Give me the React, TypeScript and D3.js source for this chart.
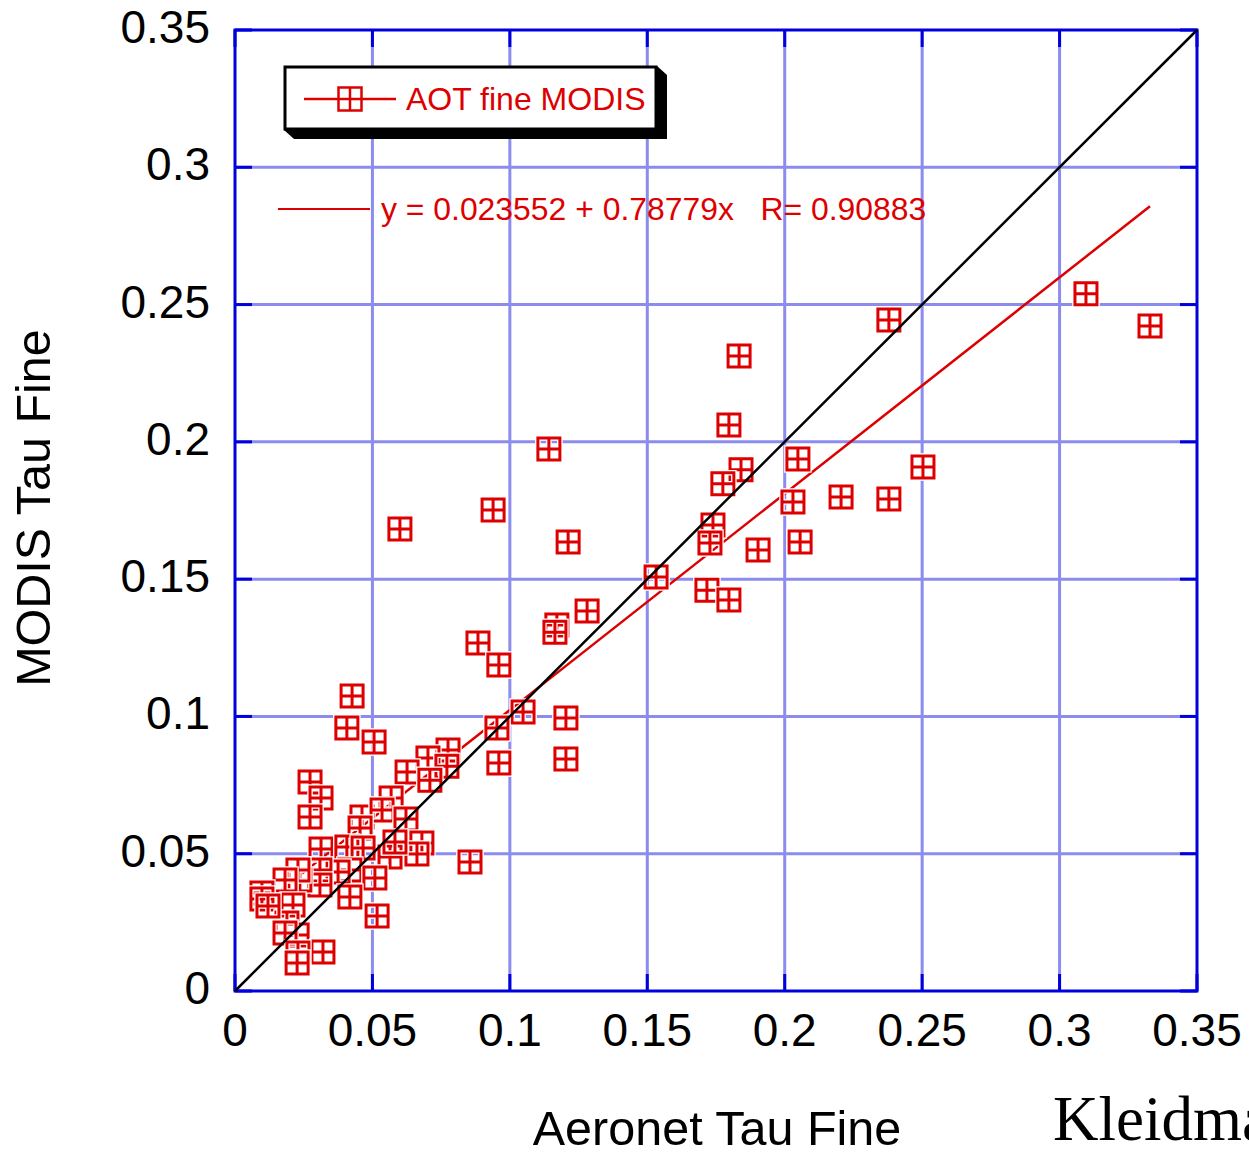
import React from "react";
import * as d3 from "d3";

// Aeronet tau fine (x) vs MODIS tau fine (y)
const aeronet = [
  0.3096, 0.3329, 0.2379, 0.1834, 0.1797, 0.1142, 0.2503, 0.2048, 0.1841, 0.1775,
  0.203, 0.2205, 0.2379, 0.0939, 0.06, 0.1212, 0.1739, 0.1728, 0.1903, 0.2056,
  0.1532, 0.1717, 0.1797, 0.1281, 0.1171, 0.1164, 0.0884, 0.096, 0.0426, 0.1048,
  0.1204, 0.0407, 0.0953, 0.0506, 0.096, 0.1204,
  0.0775, 0.0702, 0.0626, 0.0771, 0.0709, 0.0273, 0.0313, 0.0273, 0.0568, 0.0462,
  0.0535, 0.0455, 0.0622, 0.068, 0.0662, 0.0564, 0.0582, 0.0313, 0.0407, 0.0466,
  0.0855, 0.0418, 0.0509, 0.0375, 0.0309, 0.0309, 0.0236, 0.0229, 0.0182, 0.0098,
  0.0098, 0.0418, 0.0517, 0.0211, 0.0189, 0.0226, 0.0182, 0.032, 0.0229, 0.0226,
  0.012,
];
const modis = [
  0.2539, 0.2422, 0.2444, 0.2313, 0.2061, 0.1974, 0.1908, 0.1938, 0.1898, 0.1847,
  0.1781, 0.1799, 0.1792, 0.1752, 0.1683, 0.1635, 0.1697, 0.1632, 0.1606, 0.1635,
  0.1508, 0.146, 0.1424, 0.1384, 0.1333, 0.1307, 0.1267, 0.1187, 0.1074, 0.1016,
  0.0994, 0.0958, 0.0958, 0.0907, 0.083, 0.0845,
  0.0878, 0.0849, 0.0798, 0.0819, 0.0768, 0.0761, 0.0703, 0.0634, 0.0703, 0.0634,
  0.0659, 0.0594, 0.0626, 0.0539, 0.0499, 0.0488, 0.0543, 0.0517, 0.0524, 0.0521,
  0.047, 0.0441, 0.0412, 0.0433, 0.0441, 0.0386, 0.0404, 0.0441, 0.0404, 0.0357,
  0.0335, 0.0342, 0.0273, 0.0313, 0.0248, 0.0204, 0.0211, 0.0142, 0.0138, 0.0102,
  0.031,
];

const ticks = [0, 0.05, 0.1, 0.15, 0.2, 0.25, 0.3, 0.35];
const tickLabels = ["0", "0.05", "0.1", "0.15", "0.2", "0.25", "0.3", "0.35"];

const fitA = 0.023552;
const fitB = 0.78779;
const equation = "y = 0.023552 + 0.78779x   R= 0.90883";
const seriesName = "AOT fine MODIS";

const RED = "#dd0000";
const BLUE = "#0000dd";
const GRID = "#8c8cef";
const FONT = "Arial, 'Liberation Sans', sans-serif";

const markerPath = (s: number) =>
  `M${-s / 2},${-s / 2}h${s}v${s}h${-s}Z M0,${-s / 2}v${s} M${-s / 2},0h${s}`;

export default function App() {
  const left = 235, right = 1197, top = 30, bottom = 991;
  const x = d3.scaleLinear().domain([0, 0.35]).range([left, right]);
  const y = d3.scaleLinear().domain([0, 0.35]).range([bottom, top]);

  const pts = aeronet.map((a, i) => ({ a, m: modis[i] }));
  const xMin = d3.min(aeronet) as number;
  const xMax = d3.max(aeronet) as number;

  const fitLine = d3.line<number>()
    .x(d => x(d))
    .y(d => y(fitA + fitB * d))([xMin, xMax]);
  const oneToOne = d3.line<number>()
    .x(d => x(d))
    .y(d => y(d))([0, 0.35]);

  const tickLen = 17;

  return (
    <svg
      width={1249}
      height={1154}
      style={{ position: "absolute", left: 0, top: 0, display: "block", background: "#fff" }}
      fontFamily={FONT}
    >
      {/* grid */}
      {ticks.slice(1, -1).map(t => (
        <g key={"g" + t}>
          <line x1={x(t)} x2={x(t)} y1={top} y2={bottom} stroke={GRID} strokeWidth={3} />
          <line x1={left} x2={right} y1={y(t)} y2={y(t)} stroke={GRID} strokeWidth={3} />
        </g>
      ))}

      {/* frame */}
      <rect x={left} y={top} width={right - left} height={bottom - top} fill="none" stroke={BLUE} strokeWidth={3} />

      {/* inward ticks on all sides */}
      {ticks.map(t => (
        <g key={"t" + t} stroke={BLUE} strokeWidth={3}>
          <line x1={x(t)} x2={x(t)} y1={bottom} y2={bottom - tickLen} />
          <line x1={x(t)} x2={x(t)} y1={top} y2={top + tickLen} />
          <line x1={left} x2={left + tickLen} y1={y(t)} y2={y(t)} />
          <line x1={right} x2={right - tickLen} y1={y(t)} y2={y(t)} />
        </g>
      ))}

      {/* regression line */}
      <path d={fitLine ?? ""} fill="none" stroke={RED} strokeWidth={2.5} />

      {/* points */}
      {pts.map((p, i) => (
        <g key={i} transform={`translate(${x(p.a)},${y(p.m)})`}>
          <path d={markerPath(22)} fill="none" stroke="#fff" strokeWidth={5.5} />
          <path d={markerPath(22)} fill="none" stroke={RED} strokeWidth={3} />
        </g>
      ))}

      {/* 1:1 line */}
      <path d={oneToOne ?? ""} fill="none" stroke="#000" strokeWidth={2.5} />

      {/* tick labels */}
      {ticks.map((t, i) => (
        <text key={"yl" + t} x={210} y={y(t) + 13} fontSize={46} textAnchor="end" fill="#000">
          {tickLabels[i]}
        </text>
      ))}
      {ticks.map((t, i) => (
        <text key={"xl" + t} x={x(t)} y={1046} fontSize={46} textAnchor="middle" fill="#000">
          {tickLabels[i]}
        </text>
      ))}

      {/* axis titles */}
      <text x={717} y={1145} fontSize={48.5} textAnchor="middle" fill="#000">Aeronet Tau Fine</text>
      <text transform="translate(50,508) rotate(-90)" fontSize={48.5} textAnchor="middle" fill="#000">
        MODIS Tau Fine
      </text>

      {/* legend box with shadow */}
      <polygon points="657,66 667,75 667,139 294,139 284,130" fill="#000" />
      <rect x={285} y={67} width={371} height={62} fill="#fff" stroke="#000" strokeWidth={3} />
      <line x1={304} x2={396} y1={99} y2={99} stroke={RED} strokeWidth={2.5} />
      <path d={markerPath(23)} transform="translate(350,99)" fill="#fff" stroke={RED} strokeWidth={2.5} />
      <text x={406} y={110} fontSize={32} fill={RED}>{seriesName}</text>

      {/* fit equation */}
      <line x1={278} x2={370} y1={209} y2={209} stroke={RED} strokeWidth={2} />
      <text x={381} y={220} fontSize={31.9} fill={RED} style={{ whiteSpace: "pre" }}>{equation}</text>

      {/* author tag */}
      <text x={1053} y={1140} fontSize={63} fontFamily="'Liberation Serif', 'Times New Roman', serif" fill="#000">
        Kleidman
      </text>
    </svg>
  );
}
